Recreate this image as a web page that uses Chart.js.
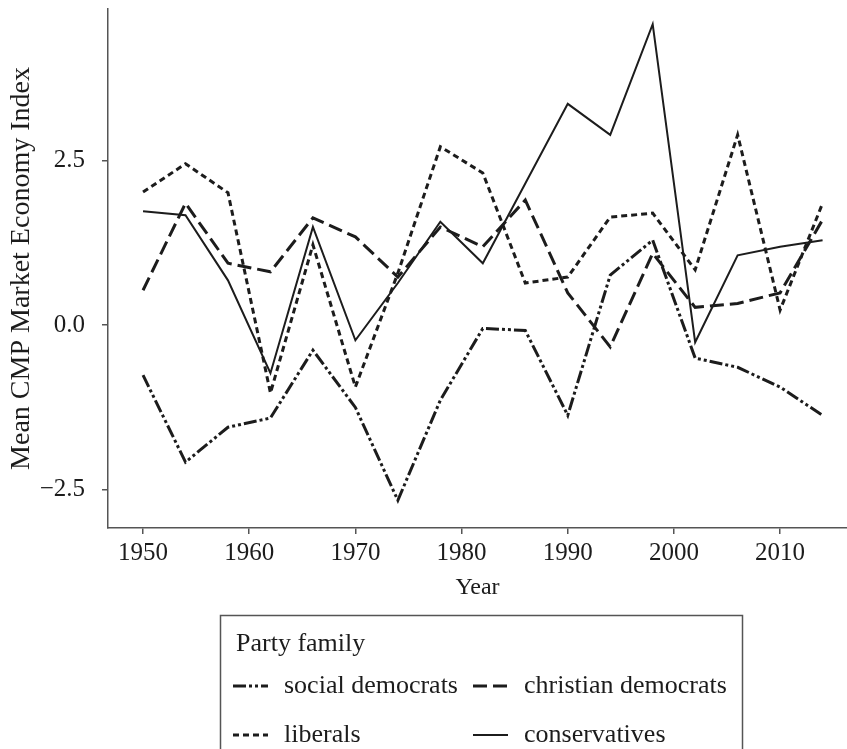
<!DOCTYPE html>
<html>
<head>
<meta charset="utf-8">
<script src="https://cdn.jsdelivr.net/npm/chart.js@4.4.1/dist/chart.umd.min.js"></script>
<style>
  html, body { margin: 0; padding: 0; background: #fff; }
  #chart { display: block; }
</style>
</head>
<body>
<canvas id="chart" width="847" height="749"></canvas>
<script>
// ---------------- Data ----------------------------------------------------
const YEARS = [ 1950, 1954, 1958, 1962, 1966, 1970, 1974, 1978, 1982,
                1986, 1990, 1994, 1998, 2002, 2006, 2010, 2014 ] ;

const SOCIAL_DEMOCRATS   = [ -0.76, -2.08, -1.55, -1.41, -0.38, -1.25, -2.66, -1.14, -0.05,
                             -0.08, -1.37,  0.76,  1.29, -0.50, -0.64, -0.94, -1.37 ] ;
const CHRISTIAN_DEMOCRATS = [ 0.53,  1.85,  0.94,  0.81,  1.63,  1.34,  0.73,  1.49,  1.19,
                              1.90,  0.49, -0.33,  1.09,  0.27,  0.33,  0.49,  1.60 ] ;
const LIBERALS           = [  2.02,  2.45,  2.01, -1.03,  1.22, -0.94,  0.79,  2.71,  2.31,
                              0.64,  0.73,  1.64,  1.70,  0.84,  2.89,  0.23,  1.85 ] ;
const CONSERVATIVES      = [  1.73,  1.67,  0.68, -0.73,  1.49, -0.23,  0.64,  1.57,  0.94,
                              2.15,  3.36,  2.89,  4.57, -0.26,  1.06,  1.19,  1.29 ] ;

const X_TICKS = [ 1950, 1960, 1970, 1980, 1990, 2000, 2010 ] ;
const Y_TICKS = [ -2.5, 0.0, 2.5 ] ;

const SERIES_NAMES = [ 'social democrats', 'christian democrats', 'liberals', 'conservatives' ] ;
const LEGEND_TITLE = 'Party family' ;

// ---------------- Styles ------------------------------------------------------
const INK = '#1c1c1c' ;
const AXIS = '#555555' ;
const SERIF = '"Liberation Serif", "DejaVu Serif", serif' ;

function toPoints( values ) {
    return values.map( function( v, i ) { return { x: YEARS[i], y: v } ; } ) ;
}

function lineDataset( name, values, dash, width ) {
    return {
        label           : name,
        data            : toPoints( values ),
        borderColor     : INK,
        backgroundColor : INK,
        borderWidth     : width,
        borderDash      : dash,
        borderCapStyle  : 'butt',
        borderJoinStyle : 'miter',
        tension         : 0,
        pointRadius     : 0,
        fill            : false
    } ;
}

const datasets = [
    lineDataset( SERIES_NAMES[0], SOCIAL_DEMOCRATS,    [ 13, 3, 3, 3, 3, 3 ], 3 ),
    lineDataset( SERIES_NAMES[1], CHRISTIAN_DEMOCRATS, [ 14, 6 ], 3 ),
    lineDataset( SERIES_NAMES[2], LIBERALS,            [ 6, 4 ], 3 ),
    lineDataset( SERIES_NAMES[3], CONSERVATIVES,       [], 2 )
] ;

// no extra room for half tick labels: the plot box is fixed by hand
function noScalePadding( scale ) {
    scale.paddingTop = 0 ;
    scale.paddingBottom = 0 ;
    scale.paddingLeft = 0 ;
    scale.paddingRight = 0 ;
}

// ---------------- Legend box (drawn under the plot) ------------------------
const legendBox = {
    id : 'legendBox',
    afterDraw : function( chart ) {
        const ctx = chart.ctx ;
        ctx.save() ;
        ctx.strokeStyle = AXIS ;
        ctx.lineWidth = 1.5 ;
        ctx.strokeRect( 220.5, 615.5, 522, 200 ) ;

        ctx.font = '26px ' + SERIF ;
        ctx.fillStyle = INK ;
        ctx.textBaseline = 'alphabetic' ;
        ctx.fillText( LEGEND_TITLE, 236, 651 ) ;

        const slots = [ [233, 693], [473, 693], [233, 742], [473, 742] ] ;
        chart.data.datasets.forEach( function( ds, i ) {
            const x = slots[i][0], y = slots[i][1] ;
            ctx.beginPath() ;
            ctx.strokeStyle = ds.borderColor ;
            ctx.lineWidth = ds.borderWidth ;
            ctx.setLineDash( ds.borderDash ) ;
            ctx.moveTo( x, y - 7 ) ;
            ctx.lineTo( x + 35, y - 7 ) ;
            ctx.stroke() ;
            ctx.setLineDash( [] ) ;
            ctx.fillText( ds.label, x + 51, y ) ;
        } ) ;
        ctx.restore() ;
    }
} ;

// ---------------- Chart -------------------------------------------------------
new Chart( document.getElementById( 'chart' ), {
    type : 'line',
    data : { datasets : datasets },
    plugins : [ legendBox ],
    options : {
        responsive : false,
        devicePixelRatio : 1,
        animation : false,
        layout : { padding : { top : 9, bottom : 149, left : 0, right : 0 } },
        plugins : {
            legend  : { display : false },
            tooltip : { enabled : false }
        },
        scales : {
            x : {
                type : 'linear',
                min  : 1946.7,
                max  : 2016.3,
                afterBuildTicks : function( scale ) {
                    scale.ticks = X_TICKS.map( function( v ) { return { value : v } ; } ) ;
                },
                afterFit : function( scale ) {
                    scale.height = 72 ;
                    noScalePadding( scale ) ;
                },
                ticks : {
                    color : INK,
                    padding : 4,
                    maxRotation : 0,
                    font : { family : SERIF, size : 25 },
                    callback : function( value ) { return String( value ) ; }
                },
                grid : { drawOnChartArea : false, drawTicks : true, tickLength : 6, color : AXIS, lineWidth : 1.5 },
                border : { display : true, color : AXIS, width : 1.5 },
                title : {
                    display : true,
                    text : 'Year',
                    color : INK,
                    font : { family : SERIF, size : 24, lineHeight : 1 },
                    padding : { top : 0, bottom : 0 }
                }
            },
            y : {
                min : -3.08,
                max : 4.80,
                afterBuildTicks : function( scale ) {
                    scale.ticks = Y_TICKS.map( function( v ) { return { value : v } ; } ) ;
                },
                afterFit : function( scale ) {
                    scale.width = 108 ;
                    noScalePadding( scale ) ;
                },
                ticks : {
                    color : INK,
                    padding : 17,
                    font : { family : SERIF, size : 25 },
                    callback : function( value ) {
                        return value.toFixed( 1 ).replace( '-', '\u2212' ) ;
                    }
                },
                grid : { drawOnChartArea : false, drawTicks : true, tickLength : 6, color : AXIS, lineWidth : 1.5 },
                border : { display : true, color : AXIS, width : 1.5 },
                title : {
                    display : true,
                    text : 'Mean CMP Market Economy Index',
                    color : INK,
                    font : { family : SERIF, size : 28, lineHeight : 1 },
                    padding : { top : 8, bottom : 0 }
                }
            }
        }
    }
} ) ;
</script>
</body>
</html>
